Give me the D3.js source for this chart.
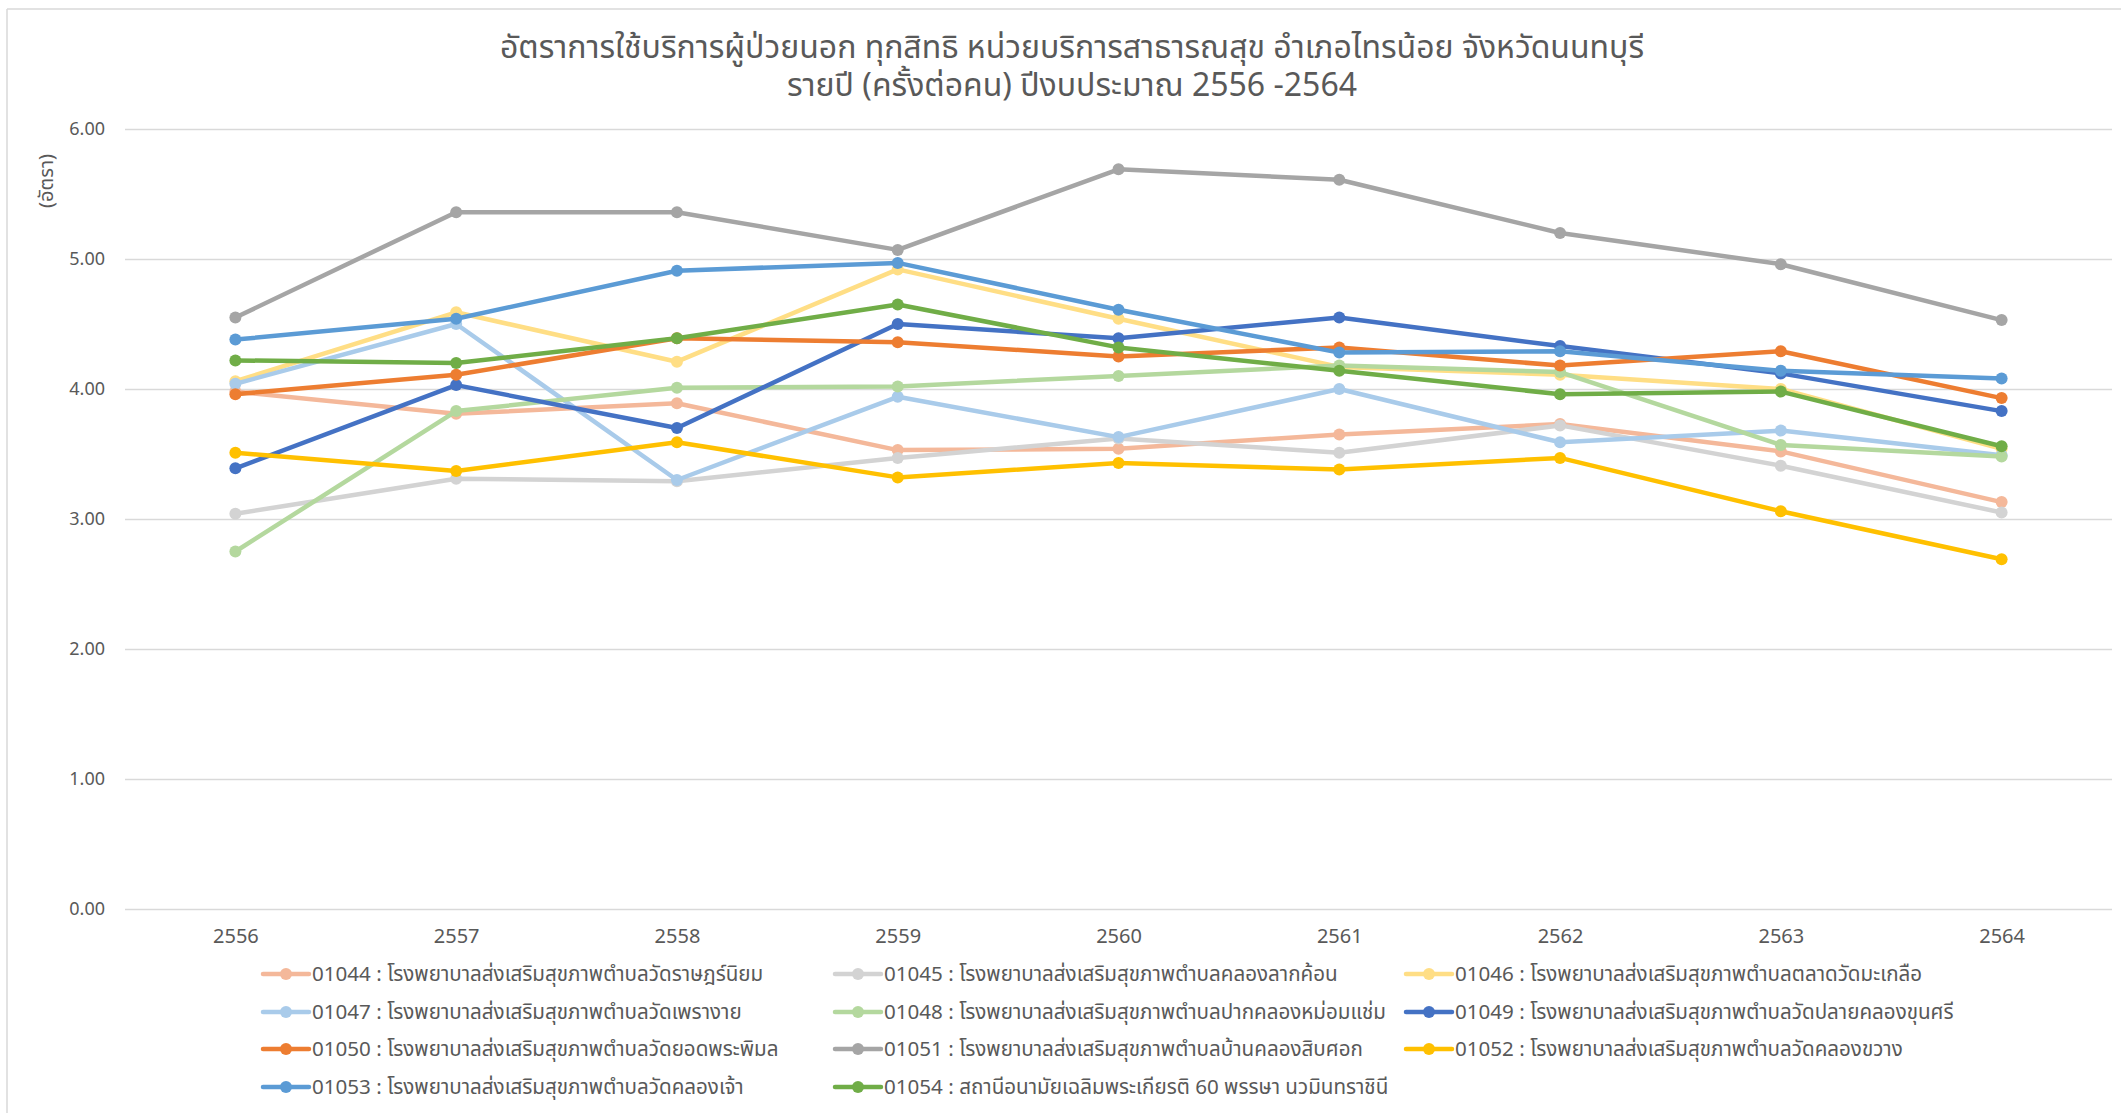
<!DOCTYPE html>
<html>
<head>
<meta charset="utf-8">
<script src="https://cdn.jsdelivr.net/npm/d3@7"></script>
<style>
  html, body { margin: 0; padding: 0; background: #fff; }
  svg { display: block; }
  text { font-family: "Leelawadee UI", "Noto Sans Thai", "Noto Sans", "DejaVu Sans", sans-serif; fill: #595959; }
</style>
</head>
<body>
<svg id="chart" width="2121" height="1113"></svg>
<script>
// ---- data ----
const years = ["2556", "2557", "2558", "2559", "2560", "2561", "2562", "2563", "2564"];
const yTicks = [0, 1, 2, 3, 4, 5, 6];
const titleLines = [
  "อัตราการใช้บริการผู้ป่วยนอก ทุกสิทธิ หน่วยบริการสาธารณสุข อำเภอไทรน้อย จังหวัดนนทบุรี",
  "รายปี (ครั้งต่อคน) ปีงบประมาณ 2556 -2564"
];
const yAxisTitle = "(อัตรา)";
const seriesNames = [
  "01044 : โรงพยาบาลส่งเสริมสุขภาพตำบลวัดราษฎร์นิยม",
  "01045 : โรงพยาบาลส่งเสริมสุขภาพตำบลคลองลากค้อน",
  "01046 : โรงพยาบาลส่งเสริมสุขภาพตำบลตลาดวัดมะเกลือ",
  "01047 : โรงพยาบาลส่งเสริมสุขภาพตำบลวัดเพรางาย",
  "01048 : โรงพยาบาลส่งเสริมสุขภาพตำบลปากคลองหม่อมแช่ม",
  "01049 : โรงพยาบาลส่งเสริมสุขภาพตำบลวัดปลายคลองขุนศรี",
  "01050 : โรงพยาบาลส่งเสริมสุขภาพตำบลวัดยอดพระพิมล",
  "01051 : โรงพยาบาลส่งเสริมสุขภาพตำบลบ้านคลองสิบศอก",
  "01052 : โรงพยาบาลส่งเสริมสุขภาพตำบลวัดคลองขวาง",
  "01053 : โรงพยาบาลส่งเสริมสุขภาพตำบลวัดคลองเจ้า",
  "01054 : สถานีอนามัยเฉลิมพระเกียรติ 60 พรรษา นวมินทราชินี"
];
const s01044 = [3.98, 3.81, 3.89, 3.53, 3.54, 3.65, 3.73, 3.52, 3.13];
const s01045 = [3.04, 3.31, 3.29, 3.47, 3.62, 3.51, 3.72, 3.41, 3.05];
const s01046 = [4.06, 4.59, 4.21, 4.92, 4.54, 4.17, 4.11, 4.00, 3.54];
const s01047 = [4.04, 4.50, 3.30, 3.94, 3.63, 4.00, 3.59, 3.68, 3.49];
const s01048 = [2.75, 3.83, 4.01, 4.02, 4.10, 4.18, 4.13, 3.57, 3.48];
const s01049 = [3.39, 4.03, 3.70, 4.50, 4.39, 4.55, 4.33, 4.12, 3.83];
const s01050 = [3.96, 4.11, 4.39, 4.36, 4.25, 4.32, 4.18, 4.29, 3.93];
const s01051 = [4.55, 5.36, 5.36, 5.07, 5.69, 5.61, 5.20, 4.96, 4.53];
const s01052 = [3.51, 3.37, 3.59, 3.32, 3.43, 3.38, 3.47, 3.06, 2.69];
const s01053 = [4.38, 4.54, 4.91, 4.97, 4.61, 4.28, 4.29, 4.14, 4.08];
const s01054 = [4.22, 4.20, 4.39, 4.65, 4.32, 4.14, 3.96, 3.98, 3.56];
const seriesValues = [s01044, s01045, s01046, s01047, s01048, s01049, s01050, s01051, s01052, s01053, s01054];
const seriesColors = ["#F4B89A", "#D3D3D3", "#FFDE85", "#A9CBEA", "#B4D89E", "#4472C4", "#ED7D31", "#A5A5A5", "#FFC000", "#5B9BD5", "#70AD47"];

// ---- layout ----
const svg = d3.select("#chart");
const W = 2121, H = 1113;
const plot = { left: 125, right: 2112, top: 129, bottom: 909 };

// chart frame (left & top edges visible)
svg.append("line").attr("x1", 7).attr("x2", 7).attr("y1", 9).attr("y2", H).attr("stroke", "#D9D9D9").attr("stroke-width", 1.5);
svg.append("line").attr("x1", 7).attr("x2", W).attr("y1", 9).attr("y2", 9).attr("stroke", "#D9D9D9").attr("stroke-width", 1.5);

const x = d3.scalePoint().domain(years).range([plot.left, plot.right]).padding(0.5);
const y = d3.scaleLinear().domain([0, 6]).range([plot.bottom, plot.top]);

// gridlines + y axis
const yAxis = d3.axisLeft(y).tickValues(yTicks).tickFormat(d3.format(".2f"))
  .tickSize(-(plot.right - plot.left)).tickPadding(20);
const gy = svg.append("g").attr("transform", `translate(${plot.left},0)`).call(yAxis);
gy.select(".domain").remove();
gy.selectAll(".tick line").attr("stroke", "#D9D9D9").attr("stroke-width", 1.5);
gy.selectAll(".tick text").attr("font-size", 18).style("fill", "#595959");

// x axis labels
const xAxis = d3.axisBottom(x).tickSize(0).tickPadding(20);
const gx = svg.append("g").attr("transform", `translate(0,${plot.bottom})`).call(xAxis);
gx.select(".domain").remove();
gx.selectAll(".tick text").attr("font-size", 20).style("fill", "#595959");

// title (two lines)
const title = svg.append("text").attr("text-anchor", "middle").attr("font-size", 32);
title.append("tspan").attr("x", 1072).attr("y", 58).text(titleLines[0]);
title.append("tspan").attr("x", 1072).attr("y", 96).text(titleLines[1]);

// y axis title
svg.append("text").attr("transform", "translate(53,181) rotate(-90)").attr("text-anchor", "middle")
  .attr("font-size", 20).text(yAxisTitle);

// series
const series = seriesNames.map((name, i) => ({ name, color: seriesColors[i], values: seriesValues[i] }));
const line = d3.line().x((d, i) => x(years[i])).y(d => y(d));
const gs = svg.append("g");
series.forEach(s => {
  const g = gs.append("g");
  g.append("path").datum(s.values).attr("d", line).attr("fill", "none")
    .attr("stroke", s.color).attr("stroke-width", 4.5).attr("stroke-linejoin", "round").attr("stroke-linecap", "round");
  g.selectAll("circle").data(s.values).enter().append("circle")
    .attr("cx", (d, i) => x(years[i])).attr("cy", d => y(d)).attr("r", 6).attr("fill", s.color);
});

// legend
const legCols = [263, 835, 1406];
const legRows = [974, 1012, 1049, 1087];
series.forEach((s, i) => {
  const lx = legCols[i % 3], ly = legRows[Math.floor(i / 3)];
  const g = svg.append("g").attr("transform", `translate(${lx},${ly})`);
  g.append("line").attr("x1", 0).attr("x2", 46).attr("y1", 0).attr("y2", 0)
    .attr("stroke", s.color).attr("stroke-width", 4.5).attr("stroke-linecap", "round");
  g.append("circle").attr("cx", 23).attr("cy", 0).attr("r", 6).attr("fill", s.color);
  g.append("text").attr("x", 49).attr("y", 0).attr("dy", "0.35em").attr("font-size", 20.6).text(s.name);
});
</script>
</body>
</html>
